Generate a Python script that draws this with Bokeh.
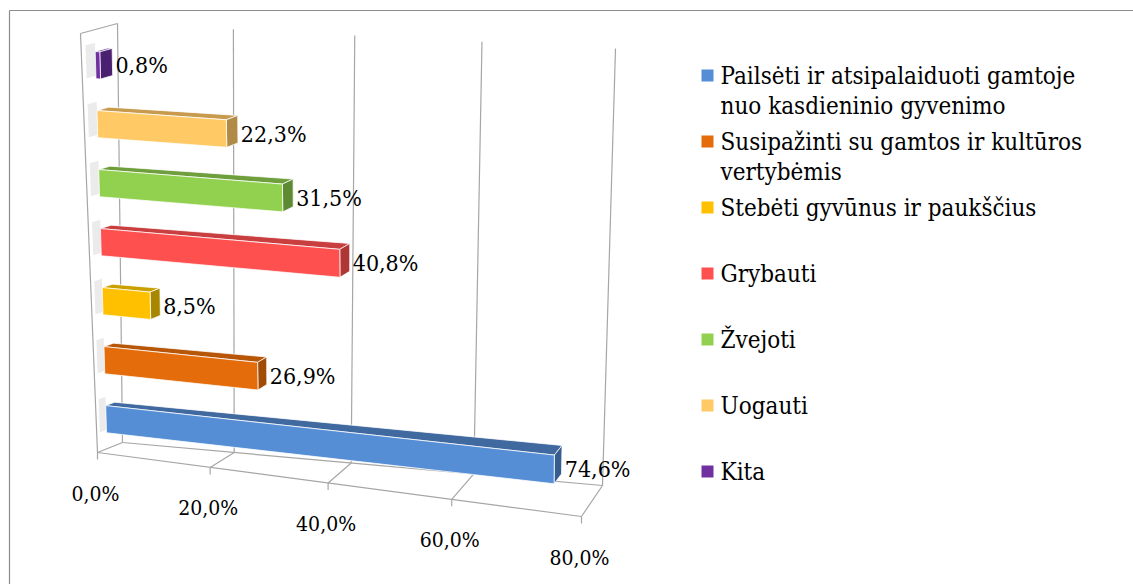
import numpy as np
from bokeh.plotting import figure
from bokeh.models import Range1d
from bokeh.core.properties import value
from bokeh.embed import file_html
from bokeh.resources import INLINE

# ---------------- data ----------------
categories = [
    "Pailsėti ir atsipalaiduoti gamtoje nuo kasdieninio gyvenimo",
    "Susipažinti su gamtos ir kultūros vertybėmis",
    "Stebėti gyvūnus ir paukščius",
    "Grybauti",
    "Žvejoti",
    "Uogauti",
    "Kita",
]
legend_lines = [
    ["Pailsėti ir atsipalaiduoti gamtoje", "nuo kasdieninio gyvenimo"],
    ["Susipažinti su gamtos ir kultūros", "vertybėmis"],
    ["Stebėti gyvūnus ir paukščius"],
    ["Grybauti"],
    ["Žvejoti"],
    ["Uogauti"],
    ["Kita"],
]
values = [74.6, 26.9, 8.5, 40.8, 31.5, 22.3, 0.8]
tick_values = [0, 20, 40, 60, 80]
tick_labels = ["0,0%", "20,0%", "40,0%", "60,0%", "80,0%"]

colors_front = ["#558ED5", "#E46C0A", "#FFC000", "#FF5050", "#92D050", "#FFC966", "#7030A0"]
colors_top = ["#40699F", "#B85608", "#C9A000", "#C93E3E", "#6F9E3D", "#C89A4E", "#5A2785"]
colors_end = ["#375C8E", "#A04B06", "#A88700", "#B03636", "#5D8A32", "#B08A46", "#4A2070"]

FONT = value("DejaVu Serif Condensed")

# ---------------- pseudo-3D projection of the chart box ----------------
NCAT = len(values)
VMAX = 80.0
BOX_H = NCAT + 0.1
# box corners in page pixels: front plane (z=0) and back wall (z=1)
F00, F10, F01, F11 = (97, 452), (581, 516), (80, 33), (582, 67)
B00, B10, B01, B11 = (122, 442), (602, 485), (117, 23), (615, 48)
PERSP_K = 0.91  # perspective spacing along the value axis


def proj(v, h, z):
    u = v / VMAX
    s = PERSP_K * u / (1 + (PERSP_K - 1) * u)
    t = h / BOX_H

    def bil(c00, c10, c01, c11):
        return [(1 - s) * (1 - t) * c00[k] + s * (1 - t) * c10[k]
                + (1 - s) * t * c01[k] + s * t * c11[k] for k in (0, 1)]

    f = bil(F00, F10, F01, F11)
    b = bil(B00, B10, B01, B11)
    return (1 - z) * f[0] + z * b[0], (1 - z) * f[1] + z * b[1]


def poly(pts):
    xy = [proj(*p) for p in pts]
    return [a for a, _ in xy], [b for _, b in xy]


# ---------------- figure ----------------
W_PX, H_PX = 1133, 584
p = figure(width=W_PX, height=H_PX, output_backend="svg", toolbar_location=None,
           x_range=Range1d(0, W_PX), y_range=Range1d(H_PX, 0),
           min_border=0, outline_line_color=None)
p.axis.visible = False
p.grid.visible = False
p.background_fill_color = "white"

# outer chart border (top and left visible)
p.line([9, 1133], [10, 10], line_color="#8C8C8C", line_width=1.2)
p.line([9, 9], [10, 584], line_color="#8C8C8C", line_width=1.2)

GRID = "#A6A6A6"
gx, gy = [], []
for t in tick_values:
    a = poly([(t, 0, 1), (t, BOX_H, 1)])
    gx.append(a[0]); gy.append(a[1])
    a = poly([(t, 0, 0), (t, 0, 1)])
    gx.append(a[0]); gy.append(a[1])
    x0, y0 = proj(t, 0, 0)
    gx.append([x0, x0]); gy.append([y0, y0 + 7])
for seg in [[(0, 0, 0), (VMAX, 0, 0)], [(0, 0, 1), (VMAX, 0, 1)],
            [(0, 0, 0), (0, BOX_H, 0)], [(0, BOX_H, 0), (0, BOX_H, 1)]]:
    a = poly(seg)
    gx.append(a[0]); gy.append(a[1])
p.multi_line(gx, gy, line_color=GRID, line_width=1.2)

# bars
BAR_H = 0.46
Z0, Z1 = 0.38, 0.72
px, py, pc = [], [], []
sx, sy = [], []
for i, val in enumerate(values):
    h0 = i + 0.5 - BAR_H / 2
    h1 = i + 0.5 + BAR_H / 2
    # faint reflection on the left wall
    a = poly([(0, h0 + 0.05, 0.12), (0, h1 + 0.15, 0.12), (0, h1 + 0.15, Z0), (0, h0 + 0.05, Z0)])
    sx.append(a[0]); sy.append(a[1])
    top = poly([(0, h1, Z0), (val, h1, Z0), (val, h1, Z1), (0, h1, Z1)])
    end = poly([(val, h0, Z0), (val, h0, Z1), (val, h1, Z1), (val, h1, Z0)])
    front = poly([(0, h0, Z0), (val, h0, Z0), (val, h1, Z0), (0, h1, Z0)])
    for f, c in [(top, colors_top[i]), (end, colors_end[i]), (front, colors_front[i])]:
        px.append(f[0]); py.append(f[1]); pc.append(c)
p.patches(sx, sy, fill_color="#E6E6E6", fill_alpha=0.8, line_color=None)
p.patches(px, py, fill_color=pc, line_color="white", line_width=1, line_alpha=0.75)

# data labels
lx, ly, lt = [], [], []
for i, val in enumerate(values):
    xe, _ = proj(val, i + 0.5, Z1)
    _, ye = proj(val, i + 0.5, Z0)
    lx.append(xe + 3); ly.append(ye)
    lt.append(f"{val:.1f}".replace(".", ",") + "%")
p.text(lx, ly, text=lt, text_font=FONT, text_font_size="23px",
       text_baseline="middle", text_align="left", text_color="black")

# tick labels
tx, ty = [], []
for t in tick_values:
    x, y = proj(t, 0, 0)
    tx.append(x - 2); ty.append(y + 41)
p.text(tx, ty, text=tick_labels, text_font=FONT, text_font_size="21px",
       text_baseline="middle", text_align="center", text_color="black")

# legend
LEG_X, LEG_Y0, LEG_STEP, LINE_H = 707, 75, 66, 30
mx, my = [], []
ex, ey, et = [], [], []
for k, lines in enumerate(legend_lines):
    yc = LEG_Y0 + LEG_STEP * k
    mx.append(LEG_X); my.append(yc)
    for j, s in enumerate(lines):
        ex.append(LEG_X + 13); ey.append(yc + j * LINE_H); et.append(s)
p.scatter(mx, my, marker="square", size=12, fill_color=colors_front, line_color=None)
p.text(ex, ey, text=et, text_font=FONT, text_font_size="24px",
       text_baseline="middle", text_align="left", text_color="black")

open("out.html", "w").write(file_html(p, INLINE))
